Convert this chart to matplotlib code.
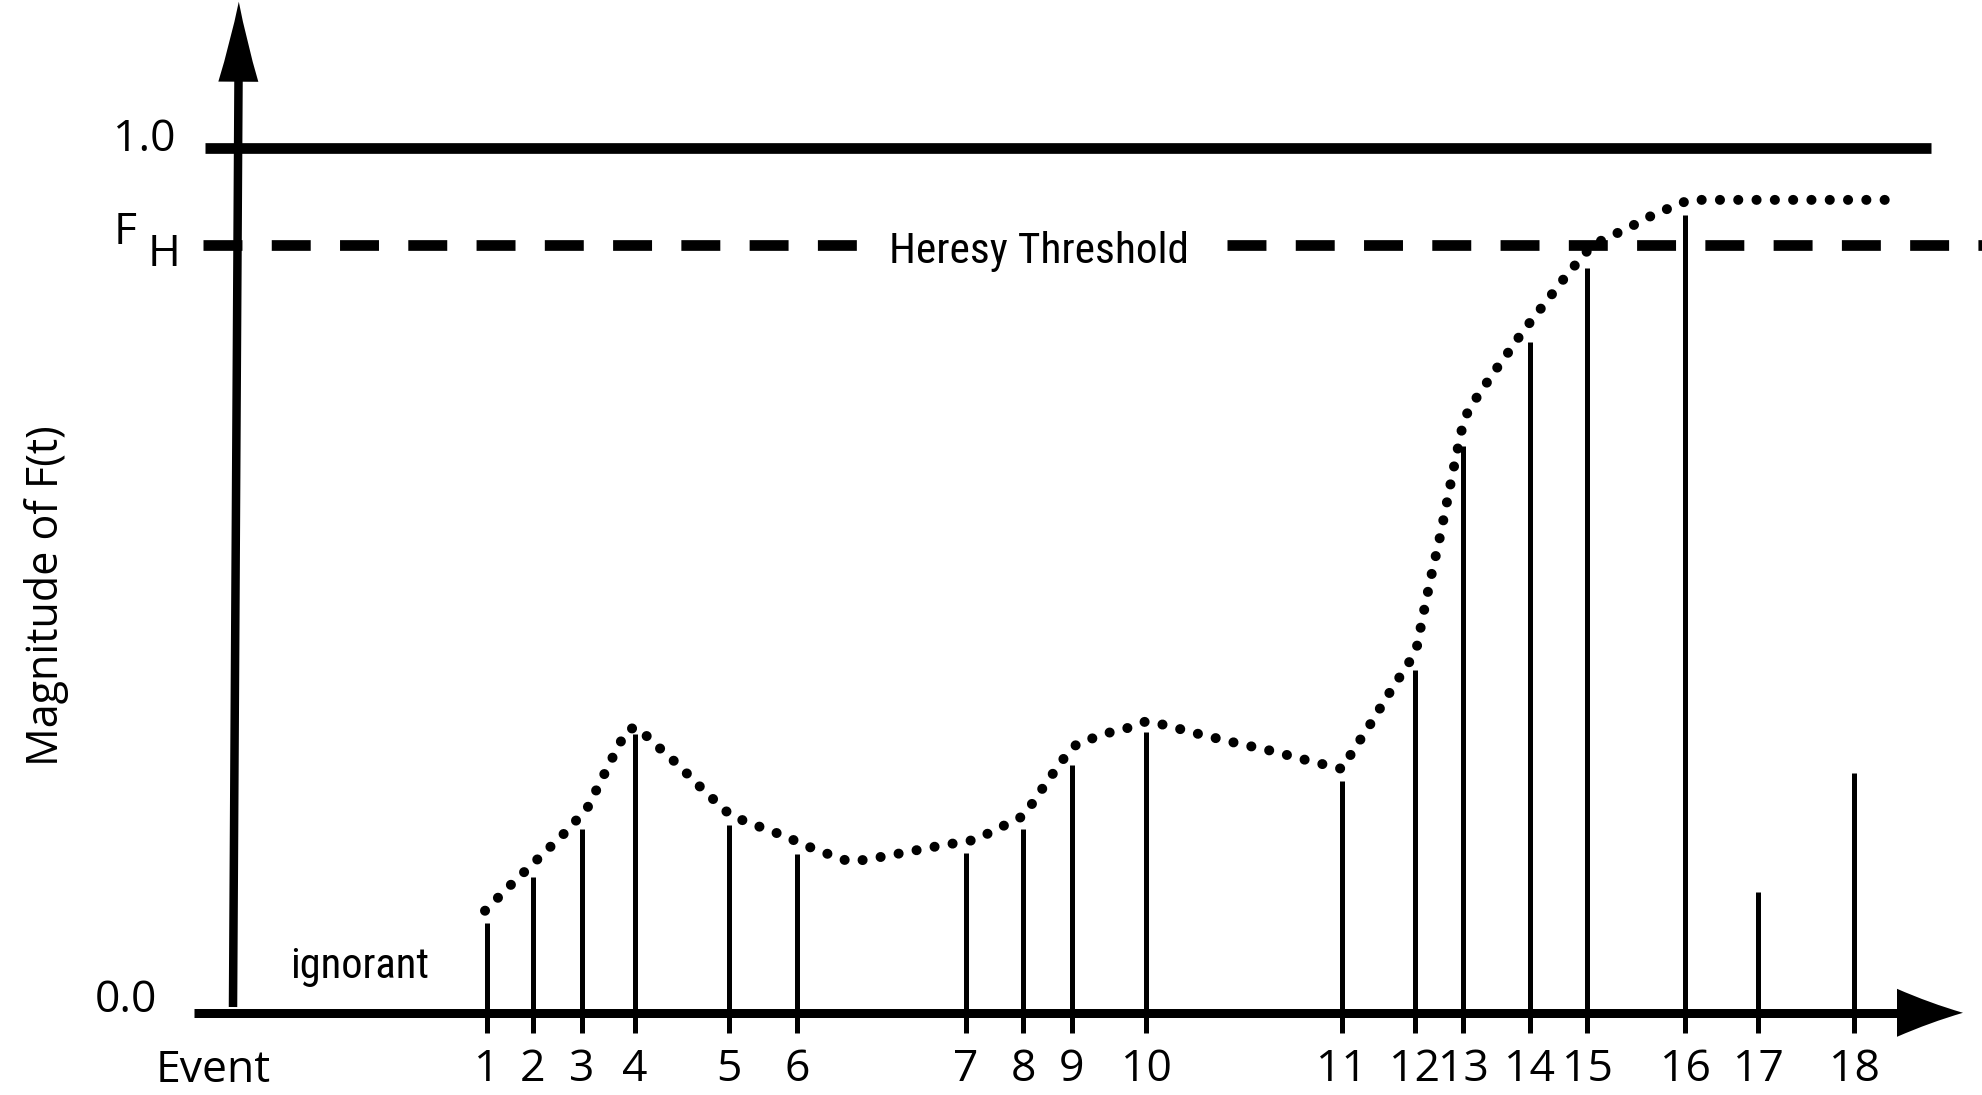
import os
import matplotlib
matplotlib.use("Agg")
import matplotlib.pyplot as plt
from matplotlib import font_manager as fm
from matplotlib.path import Path
from matplotlib.patches import PathPatch
from matplotlib.transforms import Affine2D

# ---------------- data ----------------
event_labels = ["1", "2", "3", "4", "5", "6", "7", "8", "9", "10",
                "11", "12", "13", "14", "15", "16", "17", "18"]
event_times = [25.4, 30.0, 34.9, 40.2, 49.6, 56.4, 73.3, 79.0, 83.9, 91.3,
               110.9, 118.2, 123.0, 129.7, 135.4, 145.2, 152.5, 162.1]
event_magnitude = [0.104, 0.157, 0.213, 0.322, 0.217, 0.184, 0.185, 0.213, 0.287, 0.325,
                   0.268, 0.396, 0.655, 0.776, 0.861, 0.922, 0.140, 0.277]

curve_t = [25.2, 27.7, 30.4, 33.0, 35.4, 37.0, 38.6, 39.5, 40.5, 41.8,
           44.5, 47.0, 49.7, 51.3, 54.8, 58.2, 61.6, 63.3, 67.0, 70.6,
           74.2, 75.8, 79.1, 80.1, 81.1, 82.2, 83.2, 84.4, 86.1, 87.9,
           89.7, 91.3, 93.1, 96.7, 100.3, 103.8, 107.4, 110.9, 111.9, 113.8,
           115.7, 117.6, 118.4, 119.1, 119.8, 120.6, 121.3, 122.0, 122.7, 123.1,
           123.9, 124.9, 125.9, 127.0, 129.0, 131.3, 133.5, 135.8, 137.3, 139.1,
           142.4, 144.0, 145.6, 166.1]
curve_v = [0.118, 0.147, 0.177, 0.206, 0.236, 0.273, 0.310, 0.328, 0.330, 0.315,
           0.287, 0.258, 0.229, 0.221, 0.206, 0.189, 0.175, 0.177, 0.185, 0.193,
           0.200, 0.209, 0.228, 0.245, 0.262, 0.280, 0.296, 0.311, 0.318, 0.325,
           0.330, 0.337, 0.333, 0.322, 0.312, 0.303, 0.292, 0.282, 0.301, 0.335,
           0.371, 0.405, 0.424, 0.465, 0.504, 0.545, 0.585, 0.626, 0.665, 0.686,
           0.704, 0.720, 0.738, 0.755, 0.788, 0.822, 0.855, 0.886, 0.896, 0.905,
           0.925, 0.932, 0.940, 0.940]

heresy_threshold = 0.888
y_tick_values = [0.0, 1.0]
y_tick_labels = ["0.0", "1.0"]

# ---------------- fonts ----------------
names = {f.name for f in fm.fontManager.ttflist}
MAIN = "Open Sans" if "Open Sans" in names else "DejaVu Sans"

paths = set(fm.findSystemFonts(fontext="ttf")) | set(fm.findSystemFonts(fontext="otf"))
paths |= {f.fname for f in fm.fontManager.ttflist}
by_base = {os.path.basename(p): p for p in paths}
prefs = ["NotoSans-ExtraCondensed.ttf", "NotoSans-Condensed.ttf",
         "RobotoCondensed-Regular.ttf", "LiberationSansNarrow-Regular.ttf",
         "OpenSans-CondensedRegular.ttf", "DejaVuSansCondensed.ttf",
         "NotoSans-SemiCondensed.ttf"]
narrow_path = None
for b in prefs:
    if b in by_base:
        narrow_path = by_base[b]
        break
if narrow_path is None:
    bad = ("bold", "italic", "light", "thin", "black", "medium", "semibold", "oblique", "extrabold")
    for p in sorted(paths):
        lb = os.path.basename(p).lower()
        if ("condensed" in lb or "narrow" in lb) and not any(k in lb for k in bad):
            narrow_path = p
            break
if narrow_path is not None:
    NARROW = dict(fontproperties=fm.FontProperties(fname=narrow_path))
else:
    NARROW = dict(family="Roboto" if "Roboto" in names else "DejaVu Sans")

# ---------------- layout ----------------
W, H, DPI = 1982, 1095, 100
X0, PX_T = 233.0, 10.0        # pixel x of t=0, pixels per time unit
Y0, PX_V = 1012.8, 864.8      # pixel y (top-down) of v=0, pixels per unit
FS = 32
def px_lw(p):                 # pixel width -> points
    return p * 72.0 / DPI

fig = plt.figure(figsize=(W / DPI, H / DPI), dpi=DPI)
ax = fig.add_axes([0, 0, 1, 1])
ax.set_xlim((0 - X0) / PX_T, (W - X0) / PX_T)
ax.set_ylim((Y0 - H) / PX_V, Y0 / PX_V)
ax.axis("off")

# horizontal reference lines
ax.plot([-2.8, 169.8], [y_tick_values[1]] * 2, color="black",
        lw=px_lw(10.7), solid_capstyle="butt", zorder=2)
dash = (0, (3.64, 2.74))
ax.plot([-3.0, 62.37], [heresy_threshold] * 2, color="black",
        lw=px_lw(10.7), linestyle=dash, dash_capstyle="butt", zorder=2)
ax.plot([99.45, 175.5], [heresy_threshold] * 2, color="black",
        lw=px_lw(10.7), linestyle=dash, dash_capstyle="butt", zorder=2)

# x axis
ax.plot([-3.85, 166.4], [0, 0], color="black", lw=px_lw(9), solid_capstyle="butt", zorder=3)
# y axis (slightly tilted, as drawn)
ax.plot([0.0, 0.55], [0.0067, 1.078], color="black", lw=px_lw(8.5), solid_capstyle="butt", zorder=3)

def arrowhead(tip, angle, L, Wd):
    verts = [(0, 0), (-0.5 * L, 0.4 * Wd), (-L, Wd), (-L, -Wd),
             (-0.5 * L, -0.4 * Wd), (0, 0), (0, 0)]
    codes = [Path.MOVETO, Path.CURVE3, Path.CURVE3, Path.LINETO,
             Path.CURVE3, Path.CURVE3, Path.CLOSEPOLY]
    tx, ty = ax.transData.transform(tip)
    tr = Affine2D().rotate_deg(angle).translate(tx, ty)
    p = PathPatch(Path(verts, codes), transform=tr, facecolor="black",
                  edgecolor="none", zorder=4, clip_on=False)
    ax.add_patch(p)

arrowhead(((1963 - X0) / PX_T, 0.0), 0.0, 66, 24)
arrowhead(((238.8 - X0) / PX_T, (Y0 - 1.7) / PX_V), 89.67, 80, 20)

# event bars (with ticks below the axis)
ax.vlines(event_times, -0.0234, event_magnitude, color="black",
          lw=px_lw(5), zorder=3)

# dotted F(t) curve
ax.plot(curve_t, curve_v, color="black", lw=px_lw(10),
        linestyle=(0, (0.01, 1.82)), dash_capstyle="round", zorder=5)

# tick labels
for t, lab in zip(event_times, event_labels):
    ax.text(t, -0.079, lab, ha="center", va="baseline", fontsize=FS, family=MAIN)
ax.text(-7.7, -0.0795, "Event", ha="left", va="baseline", fontsize=FS, family=MAIN)
ax.text(-13.8, 0.001, y_tick_labels[0], ha="left", va="baseline", fontsize=FS, family=MAIN)
ax.text(-12.0, 0.9965, y_tick_labels[1], ha="left", va="baseline", fontsize=FS, family=MAIN)
ax.text(-11.9, 0.889, "F", ha="left", va="baseline", fontsize=FS, family=MAIN)
ax.text(-8.5, 0.8636, "H", ha="left", va="baseline", fontsize=FS, family=MAIN)

ax.text(-17.5, 0.482, "Magnitude of F(t)", rotation=90, rotation_mode="anchor",
        ha="center", va="baseline", fontsize=31, family=MAIN)

t_ign = ax.text(5.7, 0.040, "ignorant", ha="left", va="baseline", **NARROW)
t_ign.set_fontsize(34)
t_her = ax.text(80.6, 0.867, "Heresy Threshold", ha="center", va="baseline",
                zorder=6, **NARROW)
t_her.set_fontsize(38)

def fit_width(txt, target_px, max_size):
    fig.canvas.draw()
    r = fig.canvas.get_renderer()
    w = txt.get_window_extent(r).width
    txt.set_fontsize(min(txt.get_fontsize() * target_px / w, max_size))

fit_width(t_ign, 139, 36)
fit_width(t_her, 300, 44)

fig.savefig("out.png", dpi=DPI, facecolor="white")
